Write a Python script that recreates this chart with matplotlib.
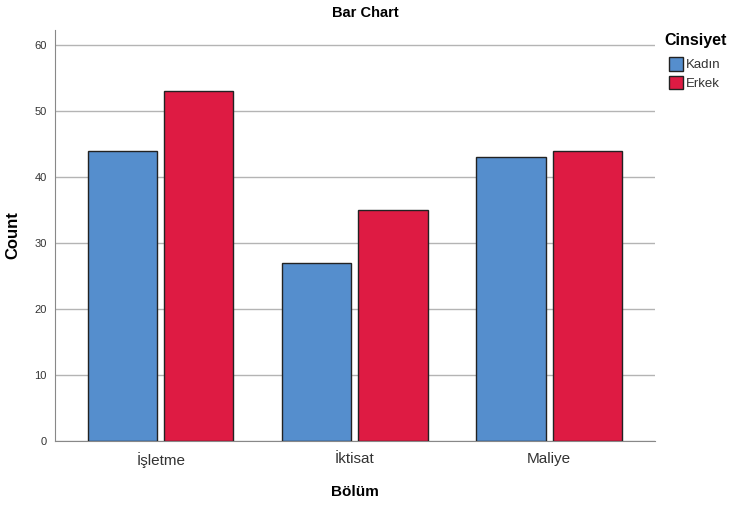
import numpy as np
import matplotlib
matplotlib.use("Agg")
import matplotlib.pyplot as plt
from matplotlib.patches import Patch

plt.rcParams['font.family'] = ['Liberation Sans', 'DejaVu Sans']

# data
bolum = ["İşletme", "İktisat", "Maliye"]
kadin = [44, 27, 43]
erkek = [53, 35, 44]
groups = ["Kadın", "Erkek"]
colours = ["#558ECD", "#DE1B43"]

fig = plt.figure(figsize=(7.3, 5.05), dpi=100)
ax = fig.add_axes([0.0753, 0.1267, 0.8219, 0.8139])

x = np.arange(len(bolum))
w = 0.356
off = 0.196
ax.bar(x - off, kadin, w, color=colours[0], edgecolor="#222222", linewidth=1, zorder=3)
ax.bar(x + off, erkek, w, color=colours[1], edgecolor="#222222", linewidth=1, zorder=3)

ax.set_xlim(-0.546, 2.546)
ax.set_ylim(0, 62.3)
ax.set_yticks(range(0, 61, 10))
ax.set_xticks(x)
ax.set_xticklabels(bolum, fontsize=11, color="#333333")
ax.tick_params(axis="y", labelsize=8, length=0, pad=6, labelcolor="#333333")
ax.tick_params(axis="x", length=0, pad=8)
ax.yaxis.grid(True, color="#b4b4b4", linewidth=1, zorder=0)

for s in ["top", "right"]:
    ax.spines[s].set_visible(False)
for s in ["left", "bottom"]:
    ax.spines[s].set_color("#888888")

ax.set_ylabel("Count", fontsize=12, fontweight="bold", labelpad=10)
ax.set_xlabel("Bölüm", fontsize=11, fontweight="bold", labelpad=12)
fig.text(0.5, 0.975, "Bar Chart", fontsize=10.5, fontweight="bold", ha="center", va="center")

# legend title placed separately so entries sit indented below it
fig.text(664 / 730, 1 - 40 / 505, "Cinsiyet", fontsize=11.5, fontweight="bold", ha="left", va="center")
handles = [Patch(facecolor=c, edgecolor="#222222", label=g) for c, g in zip(colours, groups)]
leg = fig.legend(handles=handles, loc="upper left", bbox_to_anchor=(669 / 730, 1 - 57 / 505),
                 frameon=False, fontsize=9.5, handlelength=1.05, handleheight=1.2,
                 handletextpad=0.2, labelspacing=0.35, borderpad=0, borderaxespad=0)
for t in leg.get_texts():
    t.set_color("#333333")

fig.savefig("out.png", dpi=100)
